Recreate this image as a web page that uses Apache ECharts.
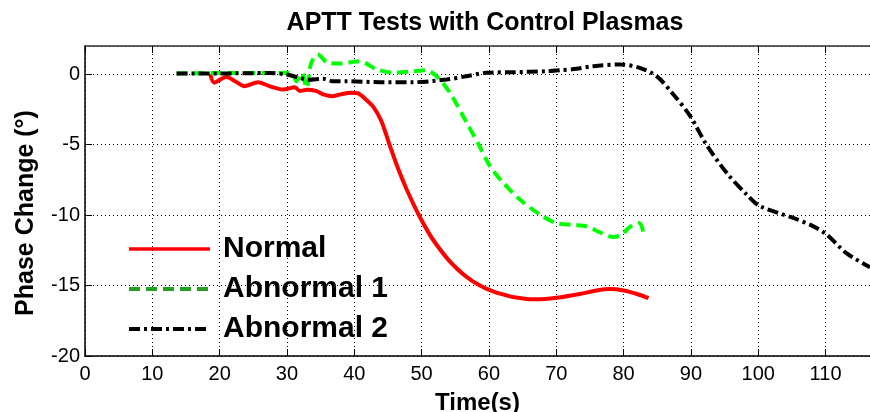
<!DOCTYPE html>
<html>
<head>
<meta charset="utf-8">
<script src="https://cdn.jsdelivr.net/npm/echarts@6/dist/echarts.min.js"></script>
<style>html,body{margin:0;padding:0;background:#fff}#c{width:870px;height:412px}</style>
</head>
<body>
<div id="c"></div>
<script>
var xTicks = [0, 10, 20, 30, 40, 50, 60, 70, 80, 90, 100, 110];
var yTicks = [-20, -15, -10, -5, 0];

var normalTime  = [18.6,19.2,20.2,21.0,22.3,23.7,25.7,27.4,29.4,31.2,31.9,33.0,34.4,35.5,36.8,38.2,39.6,40.5,41.5,42.8,44.0,45.3,46.5,47.8,49.7,51.7,54.6,57.6,61.1,65.6,67.0,70.0,73.5,76.0,78.0,80.0,82.0,83.7];
var normalPhase = [0.0,-0.6,-0.35,-0.2,-0.5,-0.85,-0.57,-0.85,-1.09,-0.92,-1.2,-1.1,-1.2,-1.45,-1.56,-1.4,-1.32,-1.35,-1.7,-2.3,-3.3,-5.1,-6.7,-8.2,-10.1,-11.75,-13.5,-14.7,-15.5,-15.96,-15.98,-15.87,-15.6,-15.35,-15.25,-15.35,-15.6,-15.9];

var abn1Time  = [13.6,20,25,28,29.9,30.9,31.4,32.2,32.9,33.6,34.6,36.1,38.1,40.8,43.3,46,48.7,50.7,52.2,54.2,56.7,58.6,60.1,62.1,64.6,67.6,70,72.5,74.5,76.7,78.5,79.7,80.9,82.3,82.9];
var abn1Phase = [0.05,0.08,0.08,0.08,0.1,-0.02,-0.5,0.1,-0.97,0.8,1.4,0.8,0.76,0.92,0.35,0.1,0.21,0.28,-0.14,-1.32,-3.45,-5.1,-6.5,-7.7,-8.9,-9.97,-10.56,-10.7,-10.8,-11.27,-11.56,-11.4,-10.85,-10.56,-11.16];

var abn2Time  = [13.6,20,27.4,29.9,31.9,33.2,35.4,36.8,38.8,43.8,48.7,53.7,56.7,59.6,63.6,68.6,70.5,73,75.5,79.5,82.4,84.9,87.4,89.9,92.3,95.3,98.3,100.3,105.2,108.2,110.2,113.1,116.6];
var abn2Phase = [0.05,0.05,0.08,-0.02,-0.26,-0.4,-0.33,-0.5,-0.5,-0.57,-0.57,-0.38,-0.14,0.1,0.14,0.21,0.28,0.38,0.57,0.69,0.45,-0.14,-1.44,-2.98,-5.0,-7.0,-8.55,-9.38,-10.2,-10.8,-11.4,-12.7,-13.7];

function pairs(t, v) { return t.map(function (x, i) { return [x, v[i]]; }); }

var FONT = '"Liberation Sans", Arial, Helvetica, sans-serif';
var chart = echarts.init(document.getElementById('c'), null, {renderer: 'canvas'});

chart.setOption({
  animation: false,
  backgroundColor: '#fff',
  title: {
    text: 'APTT Tests with Control Plasmas',
    left: 480, top: 6, textAlign: 'center',
    textStyle: {fontFamily: FONT, fontSize: 25, fontWeight: 'bold', color: '#000'}
  },
  grid: {left: 85, right: 0, top: 46, bottom: 56, containLabel: false, outerBoundsMode: 'none'},
  legend: {
    orient: 'vertical', left: 122, top: 229,
    itemWidth: 81, itemHeight: 14, itemGap: 10,
    itemStyle: {opacity: 0},
    textStyle: {fontFamily: FONT, fontSize: 30, fontWeight: 'bold', color: '#000', lineHeight: 30, padding: [0, 0, 0, 8]},
    data: [
      {name: 'Normal', lineStyle: {width: 3.5}},
      {name: 'Abnormal 1', lineStyle: {color: '#22a022', width: 4}},
      {name: 'Abnormal 2', lineStyle: {width: 4}}
    ]
  },
  xAxis: [{
    type: 'value', min: 0, max: 116.6, interval: 10,
    name: 'Time(s)', nameLocation: 'middle', nameGap: 35,
    nameTextStyle: {fontFamily: FONT, fontSize: 24, fontWeight: 'bold', color: '#000'},
    axisLine: {show: true, onZero: false, lineStyle: {color: '#000', width: 1.5}},
    axisTick: {show: true, inside: true, length: 7, lineStyle: {color: '#000'}},
    axisLabel: {fontFamily: FONT, fontSize: 20, color: '#000', margin: 8, showMaxLabel: false,
      formatter: function (v) { return xTicks.indexOf(v) >= 0 ? String(v) : ''; }},
    splitLine: {show: true, lineStyle: {type: [1, 3], color: '#000', width: 1}}
  }, {
    type: 'value', position: 'top', min: 0, max: 116.6, interval: 10,
    axisLine: {show: true, onZero: false, lineStyle: {color: '#333', width: 1.5}},
    axisTick: {show: true, inside: true, length: 7, lineStyle: {color: '#000'}},
    axisLabel: {show: false}, splitLine: {show: false}
  }],
  yAxis: {
    type: 'value', min: -20, max: 2, interval: 5,
    name: 'Phase Change (°)', nameLocation: 'middle', nameGap: 46,
    nameTextStyle: {fontFamily: FONT, fontSize: 25, fontWeight: 'bold', color: '#000', padding: [0, 24, 0, 0]},
    axisLine: {show: true, onZero: false, lineStyle: {color: '#000', width: 1.5}},
    axisTick: {show: true, inside: true, length: 7, lineStyle: {color: '#000'}},
    axisLabel: {fontFamily: FONT, fontSize: 20, color: '#000', margin: 5, showMaxLabel: false,
      formatter: function (v) { return yTicks.indexOf(v) >= 0 ? String(v) : ''; }},
    splitLine: {show: true, lineStyle: {type: [1, 3], color: '#000', width: 1}}
  },
  series: [{
    name: 'Normal', type: 'line', data: pairs(normalTime, normalPhase),
    showSymbol: false, symbol: 'none', smooth: 0.3, color: '#ff0000',
    lineStyle: {color: '#ff0000', width: 4}
  }, {
    name: 'Abnormal 1', type: 'line', data: pairs(abn1Time, abn1Phase),
    showSymbol: false, symbol: 'none', smooth: 0.3, color: '#00ff00',
    lineStyle: {color: '#00ff00', width: 4, type: [11, 6]}
  }, {
    name: 'Abnormal 2', type: 'line', data: pairs(abn2Time, abn2Phase),
    showSymbol: false, symbol: 'none', smooth: 0.3, color: '#000',
    lineStyle: {color: '#000', width: 4, type: [11, 4, 3, 4]}
  }]
});
</script>
</body>
</html>
